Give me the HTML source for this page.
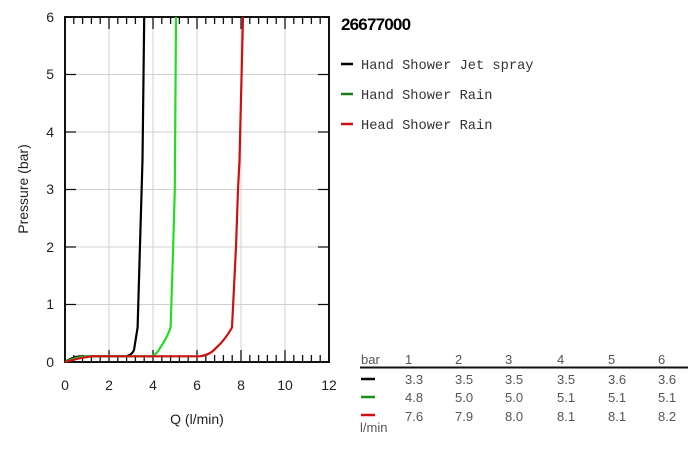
<!DOCTYPE html><html><head><style>body{margin:0;background:#fff;width:700px;height:446px;overflow:hidden}</style></head><body>
<svg width="700" height="446" xmlns="http://www.w3.org/2000/svg" font-family="Liberation Sans, sans-serif">
<g stroke="#d0d0d0" stroke-width="1">
<line x1="109" y1="17" x2="109" y2="362"/><line x1="153" y1="17" x2="153" y2="362"/><line x1="197" y1="17" x2="197" y2="362"/><line x1="241" y1="17" x2="241" y2="362"/><line x1="285" y1="17" x2="285" y2="362"/>
<line x1="65" y1="74.5" x2="329" y2="74.5"/><line x1="65" y1="132" x2="329" y2="132"/><line x1="65" y1="189.5" x2="329" y2="189.5"/><line x1="65" y1="247" x2="329" y2="247"/><line x1="65" y1="304.5" x2="329" y2="304.5"/>
</g>
<path stroke="#111" stroke-width="1.3" fill="none" d="
M73.8 17v7M82.6 17v7M91.4 17v7M100.2 17v7M109 17v12M117.8 17v7M126.6 17v7M135.4 17v7M144.2 17v7M153 17v12M161.8 17v7M170.6 17v7M179.4 17v7M188.2 17v7M197 17v12M205.8 17v7M214.6 17v7M223.4 17v7M232.2 17v7M241 17v12M249.8 17v7M258.6 17v7M267.4 17v7M276.2 17v7M285 17v12M293.8 17v7M302.6 17v7M311.4 17v7M320.2 17v7
M73.8 362v-7M82.6 362v-7M91.4 362v-7M100.2 362v-7M109 362v-12M117.8 362v-7M126.6 362v-7M135.4 362v-7M144.2 362v-7M153 362v-12M161.8 362v-7M170.6 362v-7M179.4 362v-7M188.2 362v-7M197 362v-12M205.8 362v-7M214.6 362v-7M223.4 362v-7M232.2 362v-7M241 362v-12M249.8 362v-7M258.6 362v-7M267.4 362v-7M276.2 362v-7M285 362v-12M293.8 362v-7M302.6 362v-7M311.4 362v-7M320.2 362v-7
M65 304.5h11M65 247h11M65 189.5h11M65 132h11M65 74.5h11
M329 304.5h-11M329 247h-11M329 189.5h-11M329 132h-11M329 74.5h-11"/>
<rect x="65" y="17" width="264" height="345" fill="none" stroke="#111" stroke-width="2"/>
<g fill="none" stroke-width="2.2" stroke-linejoin="round">
<path stroke="#000" d="M65 362 Q72 357 80 356.3 L126 356.3 Q132 355 134 350 L137.6 327.5 L141 211 L142.5 160 L144.2 17"/>
<path stroke="#22dd22" d="M65 362 Q75 357 88 356.3 L152 356.3 Q157 354 160 348 Q167 338 170.6 327.5 L173 253 L174.8 189.5 L176 17"/>
<path stroke="#cc1111" d="M65 362 Q78 358 92 356.3 L200 356.3 Q210 355 216 348 Q225 340 232 327.5 L236 247 L238 189.5 L239.5 160 L243 17"/>
</g>
<g font-size="14" fill="#222" text-anchor="middle">
<text x="65" y="390">0</text><text x="109" y="390">2</text><text x="153" y="390">4</text><text x="197" y="390">6</text><text x="241" y="390">8</text><text x="285" y="390">10</text><text x="329" y="390">12</text>
</g>
<g font-size="14" fill="#222" text-anchor="end">
<text x="54" y="367">0</text><text x="54" y="309">1</text><text x="54" y="252">2</text><text x="54" y="194">3</text><text x="54" y="137">4</text><text x="54" y="79">5</text><text x="54" y="22">6</text>
</g>
<text x="197" y="424" font-size="14" fill="#222" text-anchor="middle">Q (l/min)</text>
<text transform="translate(28,189) rotate(-90)" font-size="14" fill="#222" text-anchor="middle">Pressure (bar)</text>
<text x="341" y="30" font-size="17" font-weight="bold" fill="#000" letter-spacing="-0.8">26677000</text>
<g font-family="Liberation Mono, monospace" font-size="13.7" fill="#333">
<line x1="341" y1="64" x2="353" y2="64" stroke="#000" stroke-width="2.5"/><text x="361" y="69">Hand Shower Jet spray</text>
<line x1="341" y1="94" x2="353" y2="94" stroke="#1a7a1a" stroke-width="2.5"/><text x="361" y="99">Hand Shower Rain</text>
<line x1="341" y1="124" x2="353" y2="124" stroke="#cc1111" stroke-width="2.5"/><text x="361" y="129">Head Shower Rain</text>
</g>
<g font-size="13" fill="#555">
<text x="361" y="364">bar</text><text x="405" y="364">1</text><text x="455" y="364">2</text><text x="505" y="364">3</text><text x="557" y="364">4</text><text x="608" y="364">5</text><text x="658" y="364">6</text>
<line x1="360" y1="367.5" x2="688" y2="367.5" stroke="#111" stroke-width="2"/>
<line x1="361" y1="379" x2="375" y2="379" stroke="#000" stroke-width="2.5"/>
<line x1="361" y1="397" x2="375" y2="397" stroke="#1a8a1a" stroke-width="2.5"/>
<line x1="361" y1="415" x2="375" y2="415" stroke="#cc1111" stroke-width="2.5"/>
<text x="405" y="384">3.3</text><text x="455" y="384">3.5</text><text x="505" y="384">3.5</text><text x="557" y="384">3.5</text><text x="608" y="384">3.6</text><text x="658" y="384">3.6</text>
<text x="405" y="402">4.8</text><text x="455" y="402">5.0</text><text x="505" y="402">5.0</text><text x="557" y="402">5.1</text><text x="608" y="402">5.1</text><text x="658" y="402">5.1</text>
<text x="405" y="421">7.6</text><text x="455" y="421">7.9</text><text x="505" y="421">8.0</text><text x="557" y="421">8.1</text><text x="608" y="421">8.1</text><text x="658" y="421">8.2</text>
<text x="360" y="432">l/min</text>
</g>
</svg></body></html>
